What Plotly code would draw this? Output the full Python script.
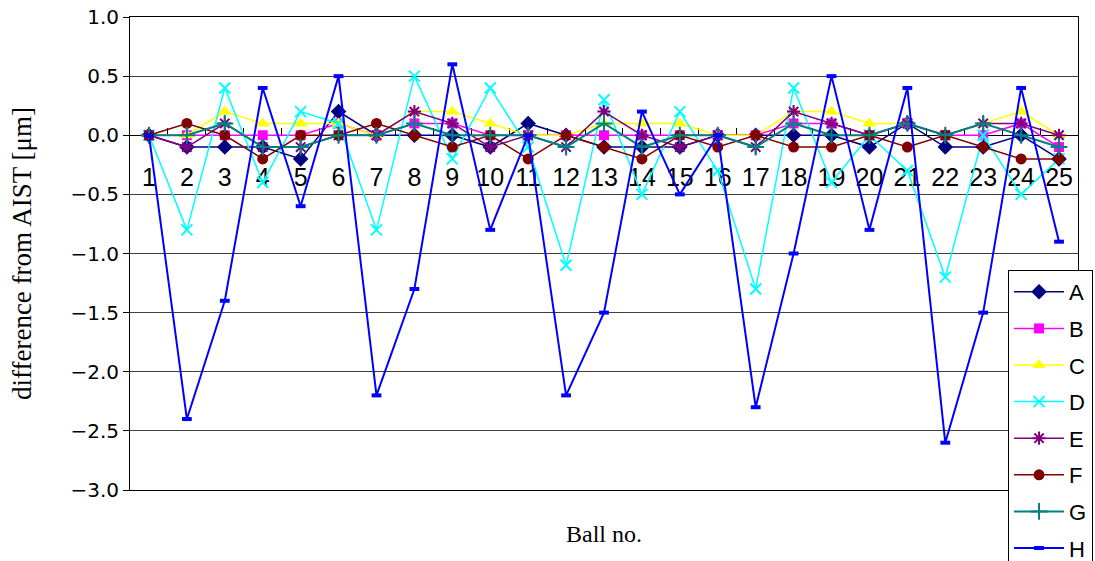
import plotly.graph_objects as go

# Ball numbers 1..25
balls = [str(i) for i in range(1, 26)]

# Deviation from AIST reference value for each participant (µm)
A = [0.0, -0.1, -0.1, -0.1, -0.2, 0.2, 0.0, 0.0, 0.0, -0.1, 0.1, 0.0, -0.1,
     -0.1, -0.1, 0.0, 0.0, 0.0, 0.0, -0.1, 0.1, -0.1, -0.1, 0.0, -0.2]
B = [0.0, 0.0, 0.0, 0.0, 0.0, 0.1, 0.0, 0.1, 0.1, 0.0, 0.0, 0.0, 0.0,
     0.0, 0.0, 0.0, 0.0, 0.1, 0.1, 0.0, 0.1, 0.0, 0.0, 0.1, -0.1]
C = [0.0, 0.0, 0.2, 0.1, 0.1, 0.1, 0.0, 0.2, 0.2, 0.1, 0.0, 0.0, 0.1,
     0.1, 0.1, 0.0, 0.0, 0.2, 0.2, 0.1, 0.1, 0.0, 0.1, 0.2, 0.0]
D = [0.0, -0.8, 0.4, -0.4, 0.2, 0.1, -0.8, 0.5, -0.2, 0.4, -0.1, -1.1, 0.3,
     -0.5, 0.2, -0.3, -1.3, 0.4, -0.4, 0.0, -0.3, -1.2, 0.0, -0.5, -0.2]
E = [0.0, -0.1, 0.1, -0.1, -0.1, 0.0, 0.0, 0.2, 0.1, -0.1, 0.0, -0.1, 0.2,
     0.0, -0.1, 0.0, -0.1, 0.2, 0.1, 0.0, 0.1, 0.0, 0.1, 0.1, 0.0]
F = [0.0, 0.1, 0.0, -0.2, 0.0, 0.0, 0.1, 0.0, -0.1, 0.0, -0.2, 0.0, -0.1,
     -0.2, 0.0, -0.1, 0.0, -0.1, -0.1, 0.0, -0.1, 0.0, -0.1, -0.2, -0.2]
G = [0.0, 0.0, 0.1, -0.1, -0.1, 0.0, 0.0, 0.1, 0.0, 0.0, 0.0, -0.1, 0.1,
     -0.1, 0.0, 0.0, -0.1, 0.1, 0.0, 0.0, 0.1, 0.0, 0.1, 0.0, -0.1]
H = [0.0, -2.4, -1.4, 0.4, -0.6, 0.5, -2.2, -1.3, 0.6, -0.8, 0.0, -2.2, -1.5,
     0.2, -0.5, 0.0, -2.3, -1.0, 0.5, -0.8, 0.4, -2.6, -1.5, 0.4, -0.9]

y_ticks = [1.0, 0.5, 0.0, -0.5, -1.0, -1.5, -2.0, -2.5, -3.0]

series = [
    ("A", A, "#000080", "diamond", 12, 1.5),
    ("B", B, "#FF00FF", "square", 10, 1.5),
    ("C", C, "#FFFF00", "triangle-up", 12, 1.5),
    ("D", D, "#00FFFF", "x-thin", 11, 1.5),
    ("E", E, "#800080", "asterisk", 11, 1.5),
    ("F", F, "#800000", "circle", 11, 1.5),
    ("G", G, "#008080", "cross-thin", 12, 2),
    ("H", H, "#0000FF", "line-ew", 7, 2),
]

fig = go.Figure()
for name, vals, color, sym, size, lw in series:
    if sym == "line-ew":
        mlw = 4
    elif sym in ("x-thin", "asterisk", "cross-thin"):
        mlw = 2
    else:
        mlw = 0
    fig.add_trace(go.Scatter(
        x=balls, y=vals, name=name, mode="lines+markers",
        legendgroup=name,
        line=dict(color=color, width=lw),
        marker=dict(symbol=sym, size=size, color=color,
                    line=dict(color=color, width=mlw)),
    ))

# invisible trace that carries the category axis drawn along y = 0
fig.add_trace(go.Scatter(x=balls, y=[None] * len(balls), xaxis="x2",
                         showlegend=False, hoverinfo="skip"))

fig.update_layout(
    width=1095, height=561,
    margin=dict(l=130, r=17, t=17, b=71, autoexpand=False),
    paper_bgcolor="white", plot_bgcolor="white",
    showlegend=True,
    legend=dict(
        x=0.9262, y=0.4651, xanchor="left", yanchor="top",
        bordercolor="black", borderwidth=1, bgcolor="white",
        font=dict(family="Liberation Sans", size=22, color="black"),
        traceorder="grouped", tracegroupgap=5, itemwidth=50,
    ),
    xaxis=dict(
        type="category", categoryorder="array", categoryarray=balls,
        range=[-0.5, 24.5], showticklabels=False, ticks="",
        showline=True, linecolor="black", linewidth=1, mirror=True,
        showgrid=False, zeroline=False,
        title=dict(text="Ball no.", standoff=35,
                   font=dict(family="Liberation Serif", size=24, color="black")),
    ),
    xaxis2=dict(
        type="category", categoryorder="array", categoryarray=balls,
        overlaying="x", anchor="free", position=0.75, side="bottom",
        range=[-0.5, 24.5], matches="x",
        showline=True, linecolor="black", linewidth=1,
        ticks="inside", tickson="boundaries", ticklen=7, tickcolor="black",
        ticklabelstandoff=20,
        tickfont=dict(family="Liberation Sans", size=25, color="black"),
        showgrid=False, zeroline=False, layer="below traces",
    ),
    yaxis=dict(
        range=[-3.0, 1.0], tickvals=y_ticks, tickformat=".1f",
        ticks="outside", ticklen=6, tickcolor="black",
        showline=True, linecolor="black", linewidth=1, mirror=True,
        showgrid=True, gridcolor="#404040", gridwidth=1,
        zeroline=True, zerolinecolor="black", zerolinewidth=1,
        tickfont=dict(family="DejaVu Sans", size=20, color="black"),
        title=dict(text="difference from AIST [μm]", standoff=30,
                   font=dict(family="Liberation Serif", size=27, color="black")),
    ),
)

fig.write_html("out.html")
